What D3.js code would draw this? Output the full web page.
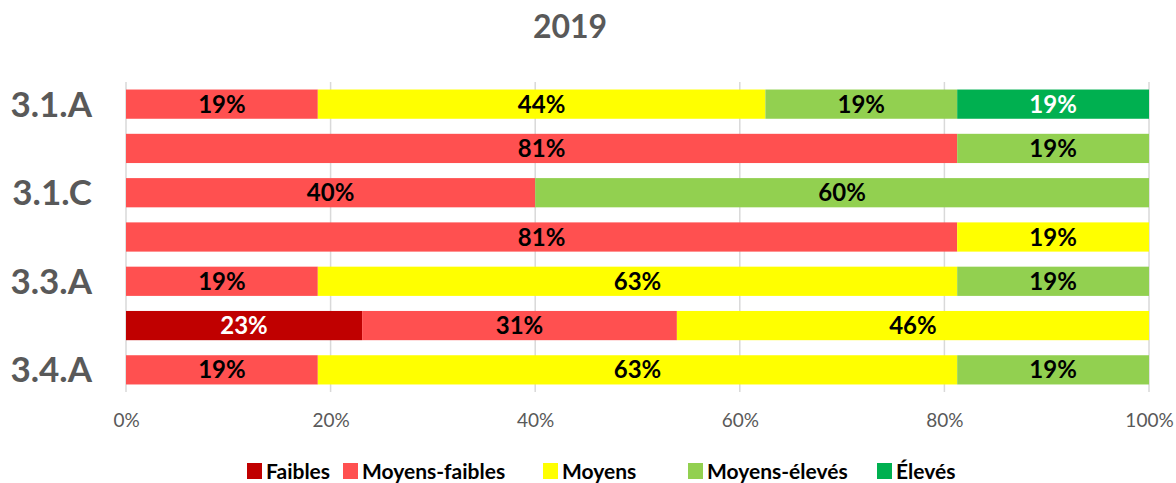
<!DOCTYPE html>
<html lang="fr">
<head>
<meta charset="UTF-8">
<title>2019</title>
<style>
  body { margin: 0; background: #fff; }
  text { font-family: Lato, "Open Sans", sans-serif; }
</style>
</head>
<body>
<div id="chart"></div>
<script src="https://cdnjs.cloudflare.com/ajax/libs/d3/7.8.2/d3.min.js"></script>
<script>
// categories (only every other label is shown on the axis)
var categories = ["3.1.A", "3.1.B", "3.1.C", "3.2.A", "3.3.A", "3.3.B", "3.4.A"];
var shownLabels = ["3.1.A", "3.1.C", "3.3.A", "3.4.A"];

// series values, in %
var seriesNames = ["Faibles", "Moyens-faibles", "Moyens", "Moyens-élevés", "Élevés"];
var faibles       = [0, 0, 0, 0, 0, 23.08, 0];
var moyensFaibles = [18.75, 81.25, 40, 81.25, 18.75, 30.77, 18.75];
var moyens        = [43.75, 0, 0, 18.75, 62.5, 46.15, 62.5];
var moyensEleves  = [18.75, 18.75, 60, 0, 18.75, 0, 18.75];
var eleves        = [18.75, 0, 0, 0, 0, 0, 0];

var tickValues = [0, 20, 40, 60, 80, 100];

var colors = ["#C00000", "#FF5050", "#FFFF00", "#92D050", "#00B050"];
var labelColors = ["#fff", "#000", "#000", "#000", "#fff"];

var width = 1176, height = 483;
var margin = {top: 82, right: 27, bottom: 91, left: 126};

var svg = d3.select("#chart").append("svg")
  .attr("width", width)
  .attr("height", height);

// title
svg.append("text")
  .attr("x", 570)
  .attr("y", 38)
  .attr("text-anchor", "middle")
  .attr("font-size", 32)
  .attr("font-weight", "bold")
  .attr("fill", "#595959")
  .text("2019");

var x = d3.scaleLinear()
  .domain([0, 100])
  .range([margin.left, width - margin.right]);

var y = d3.scaleBand()
  .domain(categories)
  .range([margin.top, height - margin.bottom])
  .paddingInner(0.34)
  .paddingOuter(0.17);

// gridlines
svg.append("g")
  .selectAll("line")
  .data(tickValues)
  .enter()
  .append("line")
  .attr("x1", function(d) { return x(d); })
  .attr("x2", function(d) { return x(d); })
  .attr("y1", margin.top)
  .attr("y2", height - margin.bottom)
  .attr("stroke", "#d9d9d9")
  .attr("stroke-width", 1.5);

// build table for stacking
var table = categories.map(function(c, i) {
  return {
    cat: c,
    "Faibles": faibles[i],
    "Moyens-faibles": moyensFaibles[i],
    "Moyens": moyens[i],
    "Moyens-élevés": moyensEleves[i],
    "Élevés": eleves[i]
  };
});

var layers = d3.stack().keys(seriesNames)(table);

var groups = svg.selectAll(".layer")
  .data(layers)
  .enter()
  .append("g")
  .attr("class", "layer");

groups.each(function(layer, k) {
  var segs = layer.filter(function(d) { return d[1] - d[0] > 0; });
  var g = d3.select(this);

  g.selectAll("rect")
    .data(segs)
    .enter()
    .append("rect")
    .attr("x", function(d) { return x(d[0]); })
    .attr("y", function(d) { return y(d.data.cat); })
    .attr("width", function(d) { return x(d[1]) - x(d[0]); })
    .attr("height", y.bandwidth())
    .attr("fill", colors[k]);

  g.selectAll("text")
    .data(segs)
    .enter()
    .append("text")
    .attr("x", function(d) { return (x(d[0]) + x(d[1])) / 2; })
    .attr("y", function(d) { return y(d.data.cat) + y.bandwidth() / 2; })
    .attr("dy", "0.36em")
    .attr("text-anchor", "middle")
    .attr("font-size", 24)
    .attr("font-weight", "bold")
    .attr("fill", labelColors[k])
    .text(function(d) { return Math.round(d[1] - d[0]) + "%"; });
});

// y axis labels
svg.append("g")
  .selectAll("text")
  .data(shownLabels)
  .enter()
  .append("text")
  .attr("x", 92)
  .attr("y", function(d) { return y(d) + y.bandwidth() / 2; })
  .attr("dy", "0.36em")
  .attr("text-anchor", "end")
  .attr("font-size", 35)
  .attr("font-weight", "bold")
  .attr("fill", "#595959")
  .text(function(d) { return d; });

// x axis
var xAxis = svg.append("g")
  .attr("transform", "translate(0," + (height - margin.bottom) + ")")
  .call(d3.axisBottom(x)
    .tickValues(tickValues)
    .tickSize(0)
    .tickPadding(22)
    .tickFormat(function(d) { return d + "%"; }));
xAxis.select(".domain").remove();
xAxis.selectAll("text")
  .attr("font-family", "Lato, sans-serif")
  .attr("font-size", 19)
  .attr("fill", "#595959");

// legend
var legendX = [247, 343, 543, 688, 877];
var legend = svg.append("g")
  .selectAll("g")
  .data(seriesNames)
  .enter()
  .append("g")
  .attr("transform", function(d, i) { return "translate(" + legendX[i] + ",463)"; });

legend.append("rect")
  .attr("width", 15)
  .attr("height", 16)
  .attr("fill", function(d, i) { return colors[i]; });

legend.append("text")
  .attr("x", 19)
  .attr("y", 8)
  .attr("dy", "0.36em")
  .attr("font-size", 21)
  .attr("font-weight", "bold")
  .attr("fill", "#000")
  .text(function(d) { return d; });
</script>
</body>
</html>
